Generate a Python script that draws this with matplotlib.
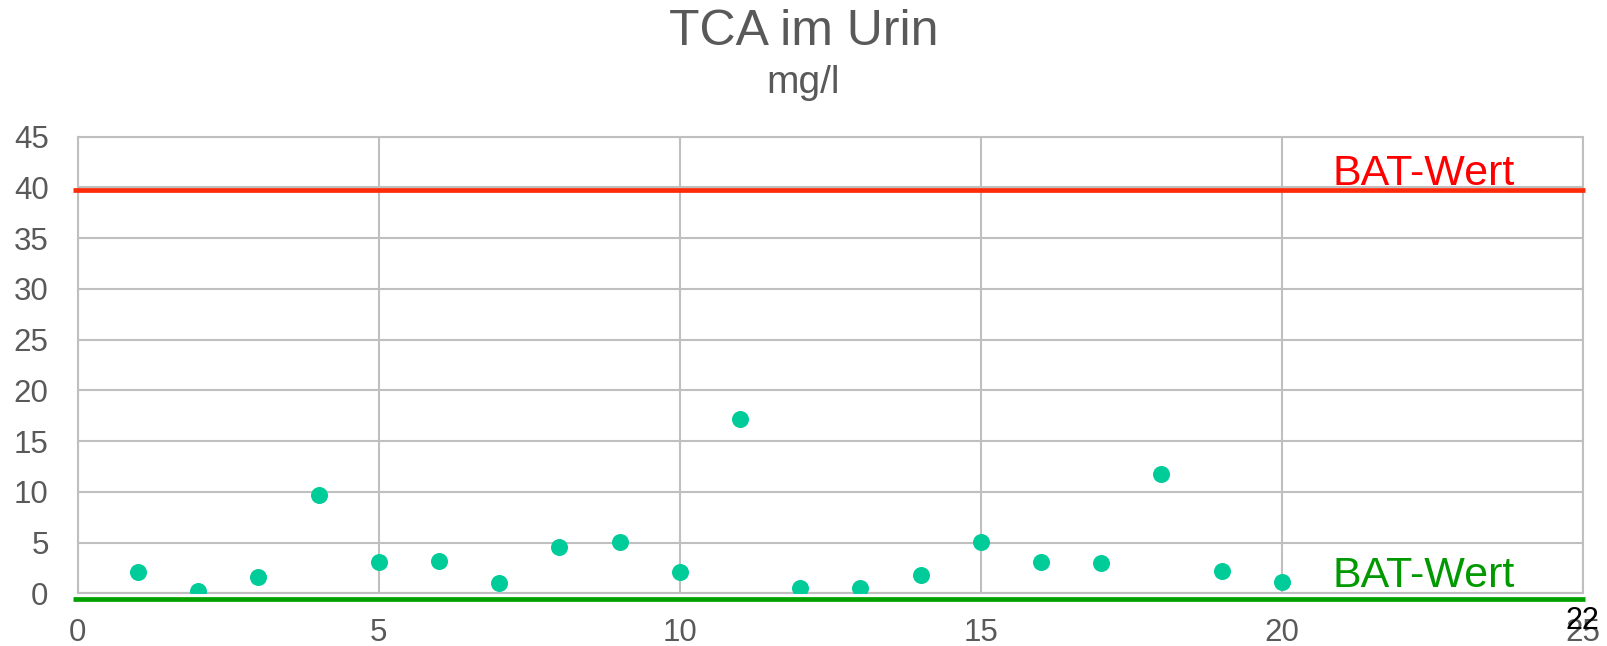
import matplotlib
matplotlib.use("Agg")
import matplotlib.pyplot as plt

# data
probe = list(range(1, 21))
tca = [2.1, 0.2, 1.6, 9.7, 3.1, 3.2, 1.0, 4.6, 5.1, 2.1,
       17.2, 0.5, 0.5, 1.8, 5.1, 3.1, 3.0, 11.8, 2.2, 1.1]
bat_upper = 39.7
bat_lower = -0.55
x_ticks = [0, 5, 10, 15, 20, 25]
y_ticks = [0, 5, 10, 15, 20, 25, 30, 35, 40, 45]

GRAY = "#595959"
GRID = "#BFBFBF"
POINT = "#00CC99"

plt.rcParams["font.family"] = ["Liberation Sans", "DejaVu Sans"]

fig = plt.figure(figsize=(16.07, 6.46), dpi=100, facecolor="white")
ax = fig.add_axes([0.0484, 0.0816, 0.9366, 0.7068])

ax.scatter(probe, tca, s=150, color=POINT, zorder=3, linewidths=0)

# limit lines, drawn slightly past the plot frame like the original
ax.plot([-0.08, 25.03], [bat_upper, bat_upper], color="#FF2A0A", lw=3.4,
        clip_on=False, zorder=4, solid_capstyle="butt")
ax.plot([-0.08, 25.03], [bat_lower, bat_lower], color="#00A000", lw=3.4,
        clip_on=False, zorder=4, solid_capstyle="butt")
ax.text(22.35, 40.2, "BAT-Wert", color="#FF0000", fontsize=31,
        ha="center", va="baseline", zorder=5)
ax.text(22.35, 0.62, "BAT-Wert", color="#009900", fontsize=31,
        ha="center", va="baseline", zorder=5)

ax.set_xlim(0, 25)
ax.set_ylim(0, 45)
ax.set_xticks(x_ticks)
ax.set_yticks(y_ticks)
ax.tick_params(length=0, labelsize=22.5, labelcolor=GRAY)
ax.tick_params(axis="x", pad=18)
ax.tick_params(axis="y", pad=21)
ax.grid(True, color=GRID, linewidth=1.5)
ax.set_axisbelow(True)
for spine in ax.spines.values():
    spine.set_color(GRID)
    spine.set_linewidth(1.5)

fig.text(0.5, 0.950, "TCA im Urin", ha="center", va="center",
         fontsize=36, color=GRAY)
fig.text(0.5, 0.871, "mg/l", ha="center", va="center",
         fontsize=28, color=GRAY)

# slide number sitting on top of the last tick label
fig.text(1582 / 1607, 1 - 621 / 646, "22", ha="center", va="center",
         fontsize=22, color="black")

fig.savefig("out.png", dpi=100, facecolor="white")
